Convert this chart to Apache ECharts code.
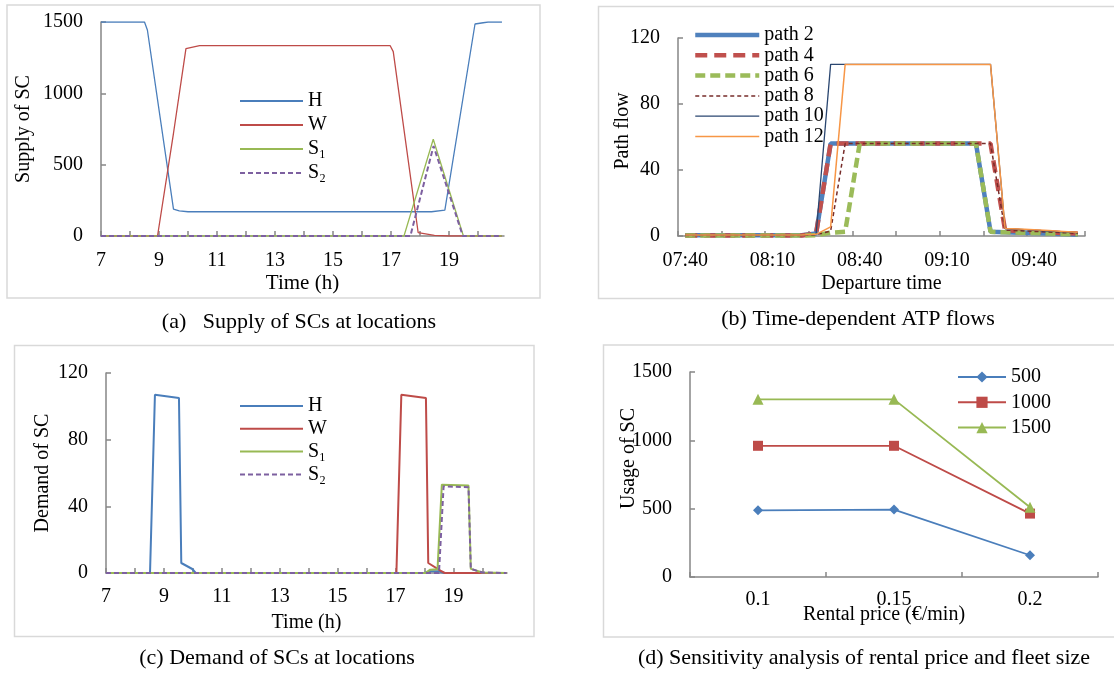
<!DOCTYPE html>
<html><head><meta charset="utf-8">
<script src="https://cdn.jsdelivr.net/npm/echarts@6/dist/echarts.min.js"></script>
<style>html,body{margin:0;padding:0;background:#fff}#c{width:1114px;height:675px}</style>
</head><body><div id="c"></div>
<script>
// ---------- (a) Supply of SCs at locations: [hour, supply] vertices ----------
const supplyH  = [[7,1500],[8.5,1500],[8.6,1444],[9.5,189],[9.7,176],[10,170],[18.4,170],[18.86,182],[19.9,1486],[20.35,1500],[20.83,1500]];
const supplyW  = [[7,0],[8.95,0],[9.5,720],[9.93,1313],[10.4,1335],[16.97,1335],[17.08,1292],[17.94,23],[18.5,5],[19,0],[20.83,0]];
const supplyS1 = [[7,0],[17.45,0],[18.46,678],[19.5,0],[20.83,0]];
const supplyS2 = [[7,0],[17.67,0],[18.47,631],[19.48,0],[20.83,0]];
const hourTicks  = [7,8,9,10,11,12,13,14,15,16,17,18,19,20];
const hourLabels = [7,9,11,13,15,17,19];

// ---------- (b) Time-dependent ATP flows ----------
const departTimes = ['07:40','07:45','07:50','07:55','08:00','08:05','08:10','08:15','08:20','08:25','08:30','08:35','08:40','08:45','08:50','08:55','09:00','09:05','09:10','09:15','09:20','09:25','09:30','09:35','09:40','09:45','09:50','09:55'];
const path2  = [0.5,0.5,0.5,0.5,0.5,0.5,0.5,0.5,0.5,1.5,56,56,56,56,56,56,56,56,56,56,56,2.6,2.2,2,1.8,1.5,1.2,0.8];
const path4  = [0.3,0.3,0.3,0.3,0.3,0.3,0.3,0.3,0.3,1.5,56,56,56,56,56,56,56,56,56,56,56,56,3.5,3,2.6,2.2,1.8,1.5];
const path6  = [0.3,0.3,0.3,0.3,0.3,0.3,0.3,0.3,0.3,0.5,2,2.6,56,56,56,56,56,56,56,56,56,2.6,2.2,2,1.8,1.5,1.2,1];
const path8  = [0.3,0.3,0.3,0.3,0.3,0.3,0.3,0.3,0.3,0.8,3,56,56,56,56,56,56,56,56,56,56,56,3.6,3.2,2.8,2.4,2,1.6];
const path10 = [0.5,0.5,0.5,0.5,0.5,0.5,0.5,0.5,0.5,1,104,104,104,104,104,104,104,104,104,104,104,104,4.4,4,3.5,3,2.5,2];
const path12 = [0.6,0.6,0.6,0.6,0.6,0.6,0.6,0.6,0.6,1,5.5,104,104,104,104,104,104,104,104,104,104,104,4.6,4.2,3.8,3.3,2.8,2.3];

// ---------- (c) Demand of SCs at locations: [hour, demand] vertices ----------
const demandH  = [[7,0],[8.52,0],[8.69,107],[9.52,105],[9.6,6],[9.98,2.4],[10.1,0],[18,0],[18.17,1],[18.5,1],[18.67,0],[20.83,0]];
const demandW  = [[7,0],[17.03,0],[17.2,107],[18.05,105],[18.13,6],[18.55,1.4],[18.7,0],[20.83,0]];
const demandS1 = [[7,0],[18.03,0],[18.2,2],[18.45,2.2],[18.6,53],[19.52,52.5],[19.6,2.5],[20,0.3],[20.83,0]];
const demandS2 = [[7,0],[18.5,0],[18.66,52],[19.52,51.5],[19.6,2.5],[20,0.3],[20.83,0]];

// ---------- (d) Sensitivity analysis ----------
const rentalPrices = ['0.1','0.15','0.2'];
const usage500  = [488,493,159];
const usage1000 = [960,960,464];
const usage1500 = [1300,1300,510];

const FF = "'Liberation Serif','Times New Roman',serif";
const AX = '#868686';

function merge(a,b){
  const r = Object.assign({}, a);
  for (const k in b){
    if (b[k] && typeof b[k]==='object' && !Array.isArray(b[k]) && a[k] && typeof a[k]==='object') r[k]=Object.assign({},a[k],b[k]);
    else r[k]=b[k];
  }
  return r;
}
const base = {
  nameMoveOverlap:false,
  axisLine:{show:true,lineStyle:{color:AX,width:1.5}},
  axisTick:{show:true,inside:true,length:5,lineStyle:{color:AX,width:1.5}},
  axisLabel:{color:'#000',fontSize:20,fontFamily:FF},
  splitLine:{show:false},
  nameTextStyle:{color:'#000',fontSize:20,fontFamily:FF}
};
const plain = v => String(v);

const xAxes = [
  merge(base,{type:'value',gridIndex:0,min:7,max:20.9,interval:1,
    axisTick:{customValues:hourTicks},
    axisLabel:{customValues:hourLabels,margin:15,formatter:v=>((v-7)%2===0?String(v):'')},
    name:'Time (h)',nameLocation:'middle',nameGap:37,nameTextStyle:{fontSize:21}}),
  merge(base,{type:'category',gridIndex:1,data:departTimes,boundaryGap:true,
    axisTick:{interval:2,alignWithLabel:false},
    axisLabel:{interval:5,margin:15},
    name:'Departure time',nameLocation:'middle',nameGap:38}),
  merge(base,{type:'value',gridIndex:2,min:7,max:20.85,interval:1,
    axisTick:{customValues:hourTicks},
    axisLabel:{customValues:hourLabels,margin:14,formatter:v=>((v-7)%2===0?String(v):'')},
    name:'Time (h)',nameLocation:'middle',nameGap:40}),
  merge(base,{type:'category',gridIndex:3,data:rentalPrices,boundaryGap:true,
    axisLabel:{margin:13},
    name:'Rental price (€/min)',nameLocation:'middle',nameGap:28,nameTextStyle:{padding:[0,20,0,0]}})
];
const yAxes = [
  merge(base,{type:'value',gridIndex:0,min:0,max:1500,interval:500,axisLabel:{margin:18,formatter:plain},
    name:'Supply of SC',nameLocation:'middle',nameGap:67}),
  merge(base,{type:'value',gridIndex:1,min:0,max:120,interval:40,axisLabel:{margin:18,formatter:plain},
    name:'Path flow',nameLocation:'middle',nameGap:45,nameTextStyle:{padding:[0,0,0,12]}}),
  merge(base,{type:'value',gridIndex:2,min:0,max:120,interval:40,axisLabel:{margin:18,formatter:plain},
    name:'Demand of SC',nameLocation:'middle',nameGap:53}),
  merge(base,{type:'value',gridIndex:3,min:0,max:1500,interval:500,axisLabel:{margin:18,formatter:plain},
    name:'Usage of SC',nameLocation:'middle',nameGap:51,nameTextStyle:{padding:[0,0,0,32]}})
];

const C = {blue:'#4A7EBB', red:'#BE4B48', green:'#98B954', purple:'#7D60A0'};
function ln(name, data, xi, color, width, type, extra){
  return Object.assign({type:'line',name,data,xAxisIndex:xi,yAxisIndex:xi,symbol:'none',showSymbol:false,
    animation:false,lineStyle:{color,width,type:type||'solid'},itemStyle:{color}}, extra||{});
}
const P = {
  p2:{c:'#4F81BD',w:4.5,t:'solid'}, p4:{c:'#C0504D',w:4.5,t:[12,7]}, p6:{c:'#9BBB59',w:4.5,t:[10,5]},
  p8:{c:'#772C2A',w:1.5,t:[4,3]}, p10:{c:'#2A4670',w:1.3,t:'solid'}, p12:{c:'#F79646',w:1.5,t:'solid'}
};

const series = [
  ln('H',  supplyH, 0, C.blue, 1.3),
  ln('W',  supplyW, 0, C.red, 1.3),
  ln('S₁', supplyS1,0, C.green, 1.3),
  ln('S₂', supplyS2,0, C.purple, 2, [5,3]),

  ln('path 2',  path2, 1, P.p2.c, P.p2.w, P.p2.t),
  ln('path 4',  path4, 1, P.p4.c, P.p4.w, P.p4.t),
  ln('path 6',  path6, 1, P.p6.c, P.p6.w, P.p6.t),
  ln('path 8',  path8, 1, P.p8.c, P.p8.w, P.p8.t),
  ln('path 10', path10,1, P.p10.c, P.p10.w, P.p10.t),
  ln('path 12', path12,1, P.p12.c, P.p12.w, P.p12.t),

  ln('H ', demandH, 2, C.blue, 2),
  ln('W ', demandW, 2, C.red, 2),
  ln('S₁ ', demandS1,2, C.green, 2),
  ln('S₂ ', demandS2,2, C.purple, 2, [5,3]),

  ln('500',  usage500, 3, '#4A7EBB', 1.8, 'solid', {symbol:'diamond',showSymbol:true,symbolSize:10}),
  ln('1000', usage1000,3, '#BE4B48', 1.8, 'solid', {symbol:'rect',showSymbol:true,symbolSize:10}),
  ln('1500', usage1500,3, '#98B954', 1.8, 'solid', {symbol:'triangle',showSymbol:true,symbolSize:11})
];

const noMark = {color:'rgba(0,0,0,0)',borderWidth:0,opacity:0};
function legend(left, top, gap, width, names, hideMark){
  return Object.assign({orient:'vertical',left,top,itemGap:gap,itemWidth:width,itemHeight:14,padding:0,
    selectedMode:false,data:names,
    textStyle:{fontSize:20,fontFamily:FF,color:'#000',lineHeight:20}}, hideMark?{itemStyle:noMark}:{});
}
const lg = (n,k)=>({name:n,lineStyle:{color:P[k].c,width:P[k].w,type:P[k].t}});

const capStyle = (t)=>({text:t,fontSize:22,fontFamily:FF,fill:'#000',align:'center',verticalAlign:'middle'});
const frame = (x,y,w,h)=>({type:'rect',silent:true,z:-10,shape:{x,y,width:w,height:h},style:{fill:'none',stroke:'#D9D9D9',lineWidth:1.5}});

const option = {
  animation:false,
  backgroundColor:'#fff',
  textStyle:{fontFamily:FF},
  grid:[
    {left:101,top:22,width:403,height:214},
    {left:678,top:38,width:407,height:198},
    {left:106,top:373,width:401,height:200},
    {left:690,top:372,width:408,height:205}
  ],
  xAxis:xAxes,
  yAxis:yAxes,
  legend:[
    legend(239,91,4,63,['H','W','S₁','S₂'],true),
    legend(693,25,0.3,64,[lg('path 2','p2'),lg('path 4','p4'),lg('path 6','p6'),lg('path 8','p8'),lg('path 10','p10'),lg('path 12','p12')],true),
    legend(239,396,2.8,63,[{name:'H ',lineStyle:{width:2}},{name:'W ',lineStyle:{width:2}},{name:'S₁ ',lineStyle:{width:2}},{name:'S₂ ',lineStyle:{width:2}}],true),
    legend(957,367,5.3,48,['500','1000','1500'],false)
  ],
  graphic:[
    frame(7,5,533,293),
    frame(598.5,6.5,530,292),
    frame(14.5,345.5,519.5,291),
    frame(603.5,345,530,292),
    {type:'text',x:299,y:322,silent:true,style:capStyle('(a)   Supply of SCs at locations')},
    {type:'text',x:858,y:319,silent:true,style:capStyle('(b) Time-dependent ATP flows')},
    {type:'text',x:277,y:658,silent:true,style:capStyle('(c) Demand of SCs at locations')},
    {type:'text',x:864,y:658,silent:true,style:capStyle('(d) Sensitivity analysis of rental price and fleet size')}
  ],
  series
};
const chart = echarts.init(document.getElementById('c'),null,{renderer:'canvas'});
chart.setOption(option);
</script>
</body></html>
